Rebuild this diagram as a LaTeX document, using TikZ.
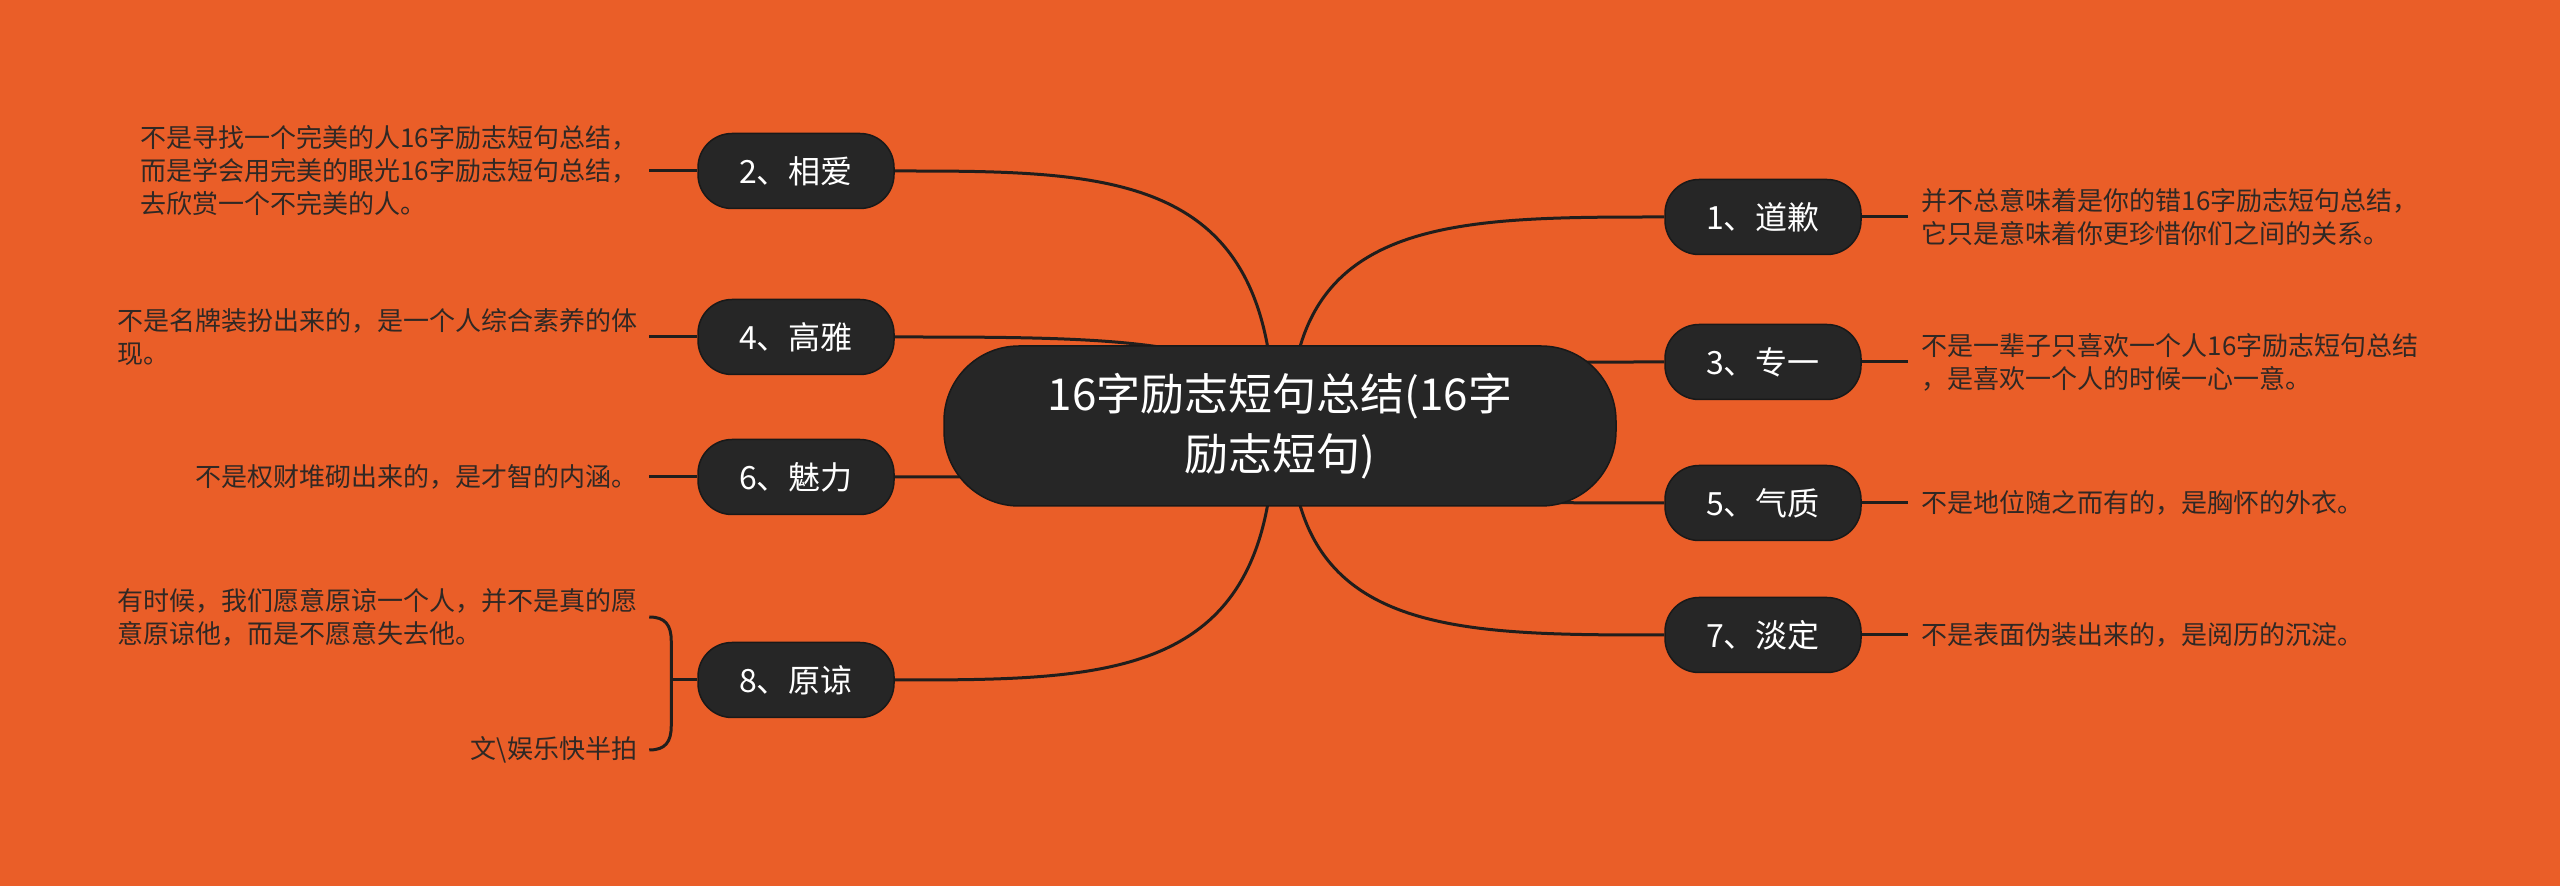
\documentclass[tikz,border=0pt]{standalone}
\usepackage{fontspec}
\setmainfont{Noto Sans CJK SC}
\usepackage{xcolor}
\usetikzlibrary{positioning}
\pgfdeclarelayer{bg}
\pgfdeclarelayer{links}
\pgfsetlayers{bg,links,main}
\definecolor{bgorange}{RGB}{234,94,40}
\definecolor{nodedark}{RGB}{38,38,38}
\definecolor{linedark}{RGB}{33,30,28}
\definecolor{notetext}{RGB}{48,40,36}

\begin{document}
\begin{tikzpicture}[
    x=1pt, y=1pt,
    every node/.style={font=\fontsize{26}{33}\selectfont},
    root/.style={rectangle, draw=black!90, line width=1.5pt, fill=nodedark, rounded corners=75pt, text=white, align=center, minimum width=672pt, minimum height=160pt, font=\fontsize{44}{60}\selectfont},
    topic/.style={rectangle, draw=black!90, line width=1.5pt, fill=nodedark, rounded corners=34pt, text=white, minimum width=196pt, minimum height=75pt, font=\fontsize{32}{36}\selectfont},
    note/.style={align=left, text=notetext, inner xsep=12pt, inner ysep=2pt},
    link/.style={draw=linedark, line width=3pt}
  ]

  \useasboundingbox (0,0) rectangle (2560,886);
  \begin{pgfonlayer}{bg}
    \fill[bgorange] (0,0) rectangle (2560,886);
  \end{pgfonlayer}

  % centre
  \node[root] (root) at (1280,460) {16字励志短句总结(16字\\励志短句)};
  \coordinate (rootL) at ([xshift=-6pt]root.center);
  \coordinate (rootR) at ([xshift=10pt]root.center);
  \coordinate (rootLk) at ([xshift=-160pt]rootL);
  \coordinate (rootRk) at ([xshift=160pt]rootR);

  % left topics
  \node[topic] (xiangai) at (796,715) {2、相爱};
  \node[topic] (gaoya) at (796,549) {4、高雅};
  \node[topic] (meili) at (796,409) {6、魅力};
  \node[topic] (yuanliang) at (796,206) {8、原谅};

  % right topics
  \node[topic] (daoqian) at (1763,669) {1、道歉};
  \node[topic] (zhuanyi) at (1763,524) {3、专一};
  \node[topic] (qizhi) at (1763,383) {5、气质};
  \node[topic] (danding) at (1763,251) {7、淡定};

  % notes
  \node[note, left=48pt of xiangai] (xiangai-note) {不是寻找一个完美的人16字励志短句总结，\\而是学会用完美的眼光16字励志短句总结，\\去欣赏一个不完美的人。};
  \node[note, left=48pt of gaoya] (gaoya-note) {不是名牌装扮出来的，是一个人综合素养的体\\现。};
  \node[note, left=48pt of meili] (meili-note) {不是权财堆砌出来的，是才智的内涵。};
  \coordinate (yuanliang-top) at ([xshift=-48pt,yshift=63pt]yuanliang.west);
  \coordinate (yuanliang-bot) at ([xshift=-48pt,yshift=-70pt]yuanliang.west);
  \node[note, anchor=east] (yuanliang-note) at (yuanliang-top) {有时候，我们愿意原谅一个人，并不是真的愿\\意原谅他，而是不愿意失去他。};
  \node[note, anchor=east] (yuanliang-src) at (yuanliang-bot) {文\textbackslash 娱乐快半拍};

  \node[note, right=46pt of daoqian, inner xsep=14pt] (daoqian-note) {并不总意味着是你的错16字励志短句总结，\\它只是意味着你更珍惜你们之间的关系。};
  \node[note, right=46pt of zhuanyi, inner xsep=14pt] (zhuanyi-note) {不是一辈子只喜欢一个人16字励志短句总结\\，是喜欢一个人的时候一心一意。};
  \node[note, right=46pt of qizhi, inner xsep=14pt] (qizhi-note) {不是地位随之而有的，是胸怀的外衣。};
  \node[note, right=46pt of danding, inner xsep=14pt] (danding-note) {不是表面伪装出来的，是阅历的沉淀。};

  \begin{pgfonlayer}{links}
    % branches
    \draw[link] (rootL) .. controls (rootL |- xiangai) and (rootLk |- xiangai) .. (xiangai.east);
    \draw[link] (rootL) .. controls (rootL |- gaoya) and (rootLk |- gaoya) .. (gaoya.east);
    \draw[link] (rootL) .. controls (rootL |- meili) and (rootLk |- meili) .. (meili.east);
    \draw[link] (rootL) .. controls (rootL |- yuanliang) and (rootLk |- yuanliang) .. (yuanliang.east);
    \draw[link] (rootR) .. controls (rootR |- daoqian) and (rootRk |- daoqian) .. (daoqian.west);
    \draw[link] (rootR) .. controls (rootR |- zhuanyi) and (rootRk |- zhuanyi) .. (zhuanyi.west);
    \draw[link] (rootR) .. controls (rootR |- qizhi) and (rootRk |- qizhi) .. (qizhi.west);
    \draw[link] (rootR) .. controls (rootR |- danding) and (rootRk |- danding) .. (danding.west);

    % notes
    \draw[link] (xiangai-note.east) -- (xiangai.west);
    \draw[link] (gaoya-note.east) -- (gaoya.west);
    \draw[link] (meili-note.east) -- (meili.west);
    \draw[link] (yuanliang.west) -- ++(-26pt,0);
    \draw[link] (yuanliang-note.east) .. controls +(16pt,0) and +(0,16pt) .. ([xshift=22pt,yshift=-24pt]yuanliang-top)
      -- ([xshift=22pt,yshift=24pt]yuanliang-bot) .. controls +(0,-16pt) and +(16pt,0) .. (yuanliang-src.east);
    \draw[link] (daoqian.east) -- (daoqian-note.west);
    \draw[link] (zhuanyi.east) -- (zhuanyi-note.west);
    \draw[link] (qizhi.east) -- (qizhi-note.west);
    \draw[link] (danding.east) -- (danding-note.west);
  \end{pgfonlayer}

\end{tikzpicture}
\end{document}
